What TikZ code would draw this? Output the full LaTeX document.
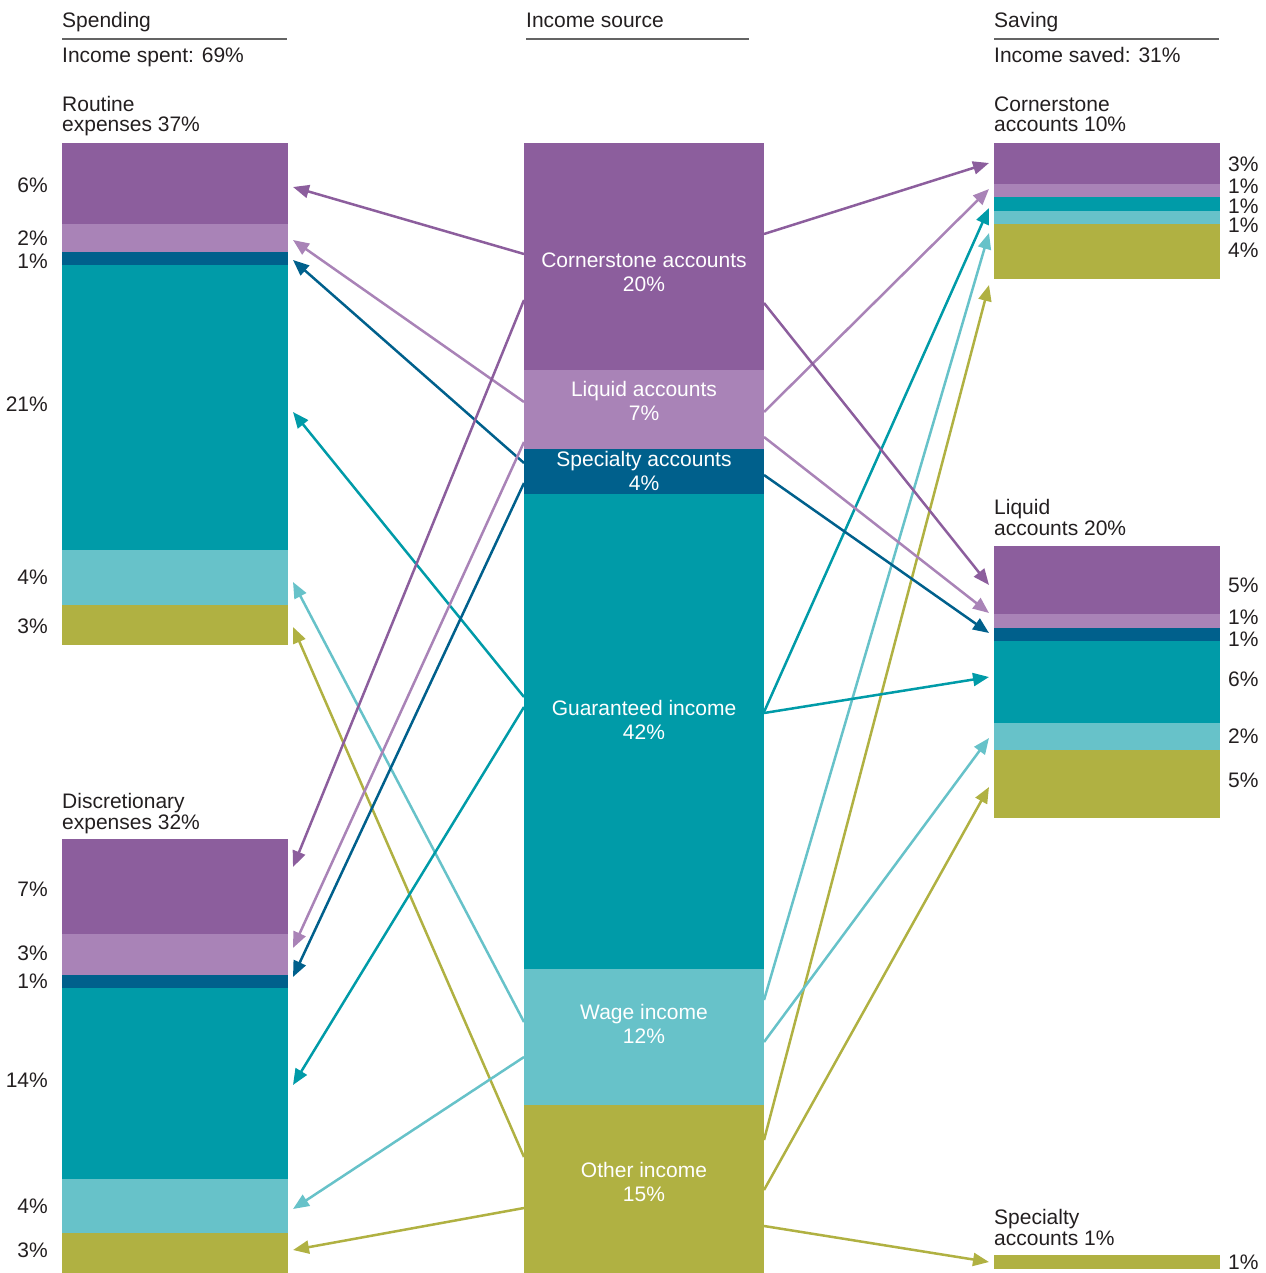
\documentclass[tikz,border=0pt]{standalone}
\usepackage{fontspec}
\setmainfont{Liberation Sans}
\usetikzlibrary{positioning,arrows.meta}
\definecolor{cpurple}{RGB}{140,94,157}
\definecolor{clpurple}{RGB}{169,131,183}
\definecolor{cdblue}{RGB}{0,96,140}
\definecolor{cteal}{RGB}{0,155,168}
\definecolor{clteal}{RGB}{103,194,201}
\definecolor{colive}{RGB}{176,177,66}
\definecolor{ctext}{RGB}{35,31,32}
\definecolor{crule}{RGB}{100,100,100}

\begin{document}
\begin{tikzpicture}[x=1pt,y=-1pt,
    segment/.style={rectangle, inner sep=0pt, outer sep=0pt, minimum width=226pt},
    sidebar/.style={segment, outer xsep=5pt},
    midbar/.style={segment, minimum width=240pt},
    flow/.style={draw=#1, line width=2.5pt, -{Triangle[length=16pt,width=13pt]}},
    heading/.style={anchor=base west, inner sep=0pt, text=ctext, align=left, font=\fontsize{21}{20.5}\selectfont},
    pctleft/.style={anchor=base east, inner sep=0pt, text=ctext, font=\fontsize{21}{21}\selectfont},
    pctright/.style={anchor=base west, inner sep=0pt, text=ctext, font=\fontsize{21}{21}\selectfont},
    inlabel/.style={anchor=base, inner sep=0pt, text=white, align=center, font=\fontsize{21}{24}\selectfont}]
    \useasboundingbox (0,0) rectangle (1265,1273);

    \node[heading] (SpendHead) at (62,28) {Spending};
    \node[heading] (SpendTotal) at (62,63) {Income spent: 69\%};
    \node[heading] (RoutHead) at (62,132) {Routine\\expenses 37\%};
    \node[heading] (DiscHead) at (62,829) {Discretionary\\expenses 32\%};
    \node[heading] (SourceHead) at (526,28) {Income source};
    \node[heading] (SaveHead) at (994,28) {Saving};
    \node[heading] (SaveTotal) at (994,63) {Income saved: 31\%};
    \node[heading] (CornHead) at (994,132) {Cornerstone\\accounts 10\%};
    \node[heading] (LiqHead) at (994,535) {Liquid\\accounts 20\%};
    \node[heading] (SpecHead) at (994,1245) {Specialty\\accounts 1\%};
    \draw[crule, line width=1.5pt] (62,39) -- (287,39);
    \draw[crule, line width=1.5pt] (526,39) -- (749,39);
    \draw[crule, line width=1.5pt] (994,39) -- (1219,39);

    \node[sidebar, fill=cpurple, minimum height=81pt, anchor=north] (RoutCS) at (175,143) {};
    \node[sidebar, fill=clpurple, minimum height=28pt, below=0pt of RoutCS] (RoutLA) {};
    \node[sidebar, fill=cdblue, minimum height=13pt, below=0pt of RoutLA] (RoutSA) {};
    \node[sidebar, fill=cteal, minimum height=285pt, below=0pt of RoutSA] (RoutGI) {};
    \node[sidebar, fill=clteal, minimum height=55pt, below=0pt of RoutGI] (RoutWI) {};
    \node[sidebar, fill=colive, minimum height=40pt, below=0pt of RoutWI] (RoutOI) {};

    \node[sidebar, fill=cpurple, minimum height=95pt, anchor=north] (DiscCS) at (175,839) {};
    \node[sidebar, fill=clpurple, minimum height=41pt, below=0pt of DiscCS] (DiscLA) {};
    \node[sidebar, fill=cdblue, minimum height=13pt, below=0pt of DiscLA] (DiscSA) {};
    \node[sidebar, fill=cteal, minimum height=191pt, below=0pt of DiscSA] (DiscGI) {};
    \node[sidebar, fill=clteal, minimum height=54pt, below=0pt of DiscGI] (DiscWI) {};
    \node[sidebar, fill=colive, minimum height=40pt, below=0pt of DiscWI] (DiscOI) {};

    \node[midbar, fill=cpurple, minimum height=227pt, anchor=north] (Cornerstone) at (644,143) {};
    \node[midbar, fill=clpurple, minimum height=79pt, below=0pt of Cornerstone] (Liquid) {};
    \node[midbar, fill=cdblue, minimum height=45pt, below=0pt of Liquid] (Specialty) {};
    \node[midbar, fill=cteal, minimum height=475pt, below=0pt of Specialty] (Guaranteed) {};
    \node[midbar, fill=clteal, minimum height=136pt, below=0pt of Guaranteed] (Wage) {};
    \node[midbar, fill=colive, minimum height=168pt, below=0pt of Wage] (Other) {};

    \node[sidebar, fill=cpurple, minimum height=41pt, anchor=north] (SavCS) at (1107,143) {};
    \node[sidebar, fill=clpurple, minimum height=13pt, below=0pt of SavCS] (SavLA) {};
    \node[sidebar, fill=cteal, minimum height=14pt, below=0pt of SavLA] (SavGI) {};
    \node[sidebar, fill=clteal, minimum height=13pt, below=0pt of SavGI] (SavWI) {};
    \node[sidebar, fill=colive, minimum height=55pt, below=0pt of SavWI] (SavOI) {};

    \node[sidebar, fill=cpurple, minimum height=68pt, anchor=north] (LiqCS) at (1107,546) {};
    \node[sidebar, fill=clpurple, minimum height=14pt, below=0pt of LiqCS] (LiqLA) {};
    \node[sidebar, fill=cdblue, minimum height=13pt, below=0pt of LiqLA] (LiqSA) {};
    \node[sidebar, fill=cteal, minimum height=82pt, below=0pt of LiqSA] (LiqGI) {};
    \node[sidebar, fill=clteal, minimum height=27pt, below=0pt of LiqGI] (LiqWI) {};
    \node[sidebar, fill=colive, minimum height=68pt, below=0pt of LiqWI] (LiqOI) {};

    \node[sidebar, fill=colive, minimum height=14pt, anchor=north] (SpecOI) at (1107,1255) {};

    \node[inlabel] at (644,291) {Cornerstone accounts\\20\%};
    \node[inlabel] at (644,420) {Liquid accounts\\7\%};
    \node[inlabel] at (644,490) {Specialty accounts\\4\%};
    \node[inlabel] at (644,739) {Guaranteed income\\42\%};
    \node[inlabel] at (644,1043) {Wage income\\12\%};
    \node[inlabel] at (644,1201) {Other income\\15\%};

    \node[pctleft] at (48,193) {6\%};
    \node[pctleft] at (48,245) {2\%};
    \node[pctleft] at (48,268) {1\%};
    \node[pctleft] at (48,411) {21\%};
    \node[pctleft] at (48,584) {4\%};
    \node[pctleft] at (48,633) {3\%};
    \node[pctleft] at (48,896) {7\%};
    \node[pctleft] at (48,960) {3\%};
    \node[pctleft] at (48,988) {1\%};
    \node[pctleft] at (48,1087) {14\%};
    \node[pctleft] at (48,1213) {4\%};
    \node[pctleft] at (48,1257) {3\%};

    \node[pctright] at (1228,172) {3\%};
    \node[pctright] at (1228,194) {1\%};
    \node[pctright] at (1228,214) {1\%};
    \node[pctright] at (1228,233) {1\%};
    \node[pctright] at (1228,258) {4\%};
    \node[pctright] at (1228,592) {5\%};
    \node[pctright] at (1228,624) {1\%};
    \node[pctright] at (1228,646) {1\%};
    \node[pctright] at (1228,686) {6\%};
    \node[pctright] at (1228,743) {2\%};
    \node[pctright] at (1228,787) {5\%};
    \node[pctright] at (1228,1269) {1\%};

    \draw[flow=cpurple] (Cornerstone.west |- 0,254) -- (RoutCS.east |- 0,187);
    \draw[flow=clpurple] (Liquid.west |- 0,402) -- (RoutLA.east |- 0,240);
    \draw[flow=cdblue] (Specialty.west |- 0,463) -- (RoutSA.east |- 0,260);
    \draw[flow=cteal] (Guaranteed.west |- 0,697) -- (RoutGI.east |- 0,412);
    \draw[flow=clteal] (Wage.west |- 0,1022) -- (RoutWI.east |- 0,582);
    \draw[flow=colive] (Other.west |- 0,1157) -- (RoutOI.east |- 0,627);

    \draw[flow=cpurple] (Cornerstone.west |- 0,300) -- (DiscCS.east |- 0,867);
    \draw[flow=clpurple] (Liquid.west |- 0,442) -- (DiscLA.east |- 0,948);
    \draw[flow=cdblue] (Specialty.west |- 0,483) -- (DiscSA.east |- 0,977);
    \draw[flow=cteal] (Guaranteed.west |- 0,707) -- (DiscGI.east |- 0,1085);
    \draw[flow=clteal] (Wage.west |- 0,1057) -- (DiscWI.east |- 0,1209);
    \draw[flow=colive] (Other.west |- 0,1208) -- (DiscOI.east |- 0,1250);

    \draw[flow=cpurple] (Cornerstone.east |- 0,234) -- (SavCS.west |- 0,163);
    \draw[flow=clpurple] (Liquid.east |- 0,412) -- (SavLA.west |- 0,189);
    \draw[flow=cteal] (Guaranteed.east |- 0,712) -- (SavGI.west |- 0,208);
    \draw[flow=clteal] (Wage.east |- 0,1000) -- (SavWI.west |- 0,233);
    \draw[flow=colive] (Other.east |- 0,1140) -- (SavOI.west |- 0,285);

    \draw[flow=cpurple] (Cornerstone.east |- 0,303) -- (LiqCS.west |- 0,585);
    \draw[flow=clpurple] (Liquid.east |- 0,437) -- (LiqLA.west |- 0,613);
    \draw[flow=cdblue] (Specialty.east |- 0,475) -- (LiqSA.west |- 0,633);
    \draw[flow=cteal] (Guaranteed.east |- 0,713) -- (LiqGI.west |- 0,677);
    \draw[flow=clteal] (Wage.east |- 0,1042) -- (LiqWI.west |- 0,738);
    \draw[flow=colive] (Other.east |- 0,1190) -- (LiqOI.west |- 0,787);

    \draw[flow=colive] (Other.east |- 0,1226) -- (SpecOI.west |- 0,1262);
\end{tikzpicture}
\end{document}
